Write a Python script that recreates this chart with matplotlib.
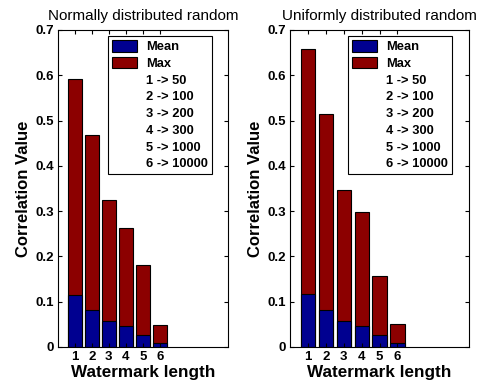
import matplotlib.pyplot as plt
import numpy as np
from matplotlib.patches import Patch

plt.rcParams['font.family'] = ['Liberation Sans', 'DejaVu Sans']

lengths = [1, 2, 3, 4, 5, 6]
mapping = ['1 -> 50', '2 -> 100', '3 -> 200', '4 -> 300', '5 -> 1000', '6 -> 10000']
normal_max = [0.591, 0.468, 0.325, 0.262, 0.182, 0.049]
normal_mean = [0.115, 0.082, 0.057, 0.046, 0.026, 0.009]
uniform_max = [0.659, 0.515, 0.346, 0.299, 0.156, 0.051]
uniform_mean = [0.116, 0.082, 0.057, 0.046, 0.026, 0.009]
titles = ['Normally distributed random', 'Uniformly distributed random']

blue = '#000090'
red = '#8C0000'

fig = plt.figure(figsize=(4.82, 3.89), dpi=100)
ax1 = fig.add_axes([0.120, 0.108, 0.353, 0.815])
ax2 = fig.add_axes([0.602, 0.108, 0.371, 0.815])

for ax, mx, mn, title in [(ax1, normal_max, normal_mean, titles[0]),
                          (ax2, uniform_max, uniform_mean, titles[1])]:
    ax.bar(lengths, mx, 0.8, color=red, edgecolor='black', linewidth=0.8)
    ax.bar(lengths, mn, 0.8, color=blue, edgecolor='black', linewidth=0.8)
    ax.set_xlim(0, 10)
    ax.set_ylim(0, 0.7)
    ax.set_xticks(lengths)
    ax.set_yticks(np.arange(0, 0.71, 0.1))
    ax.set_yticklabels(['0', '0.1', '0.2', '0.3', '0.4', '0.5', '0.6', '0.7'])
    ax.tick_params(direction='in', top=True, right=True, length=3, width=0.8, pad=3)
    for lab in ax.get_xticklabels() + ax.get_yticklabels():
        lab.set_fontsize(9.5)
        lab.set_fontweight('bold')
    ax.set_xlabel('Watermark length', fontsize=12.3, fontweight='bold', labelpad=1)
    ax.set_ylabel('Correlation Value', fontsize=12, fontweight='bold', labelpad=3)
    ax.set_title(title, fontsize=11, pad=7)

    handles = [Patch(facecolor=blue, edgecolor='black', linewidth=0.8),
               Patch(facecolor=red, edgecolor='black', linewidth=0.8)]
    handles += [Patch(visible=False) for _ in mapping]
    leg = ax.legend(handles, ['Mean', 'Max'] + mapping, loc='upper right',
                    bbox_to_anchor=(0.905, 0.98), fancybox=False, framealpha=1,
                    edgecolor='black', prop={'size': 9.3, 'weight': 'bold'},
                    handlelength=1.95, handleheight=1.0, handletextpad=0.7,
                    labelspacing=0.27, borderpad=0.3, borderaxespad=0)
    leg.get_frame().set_linewidth(0.8)

plt.savefig('out.png', dpi=100)
